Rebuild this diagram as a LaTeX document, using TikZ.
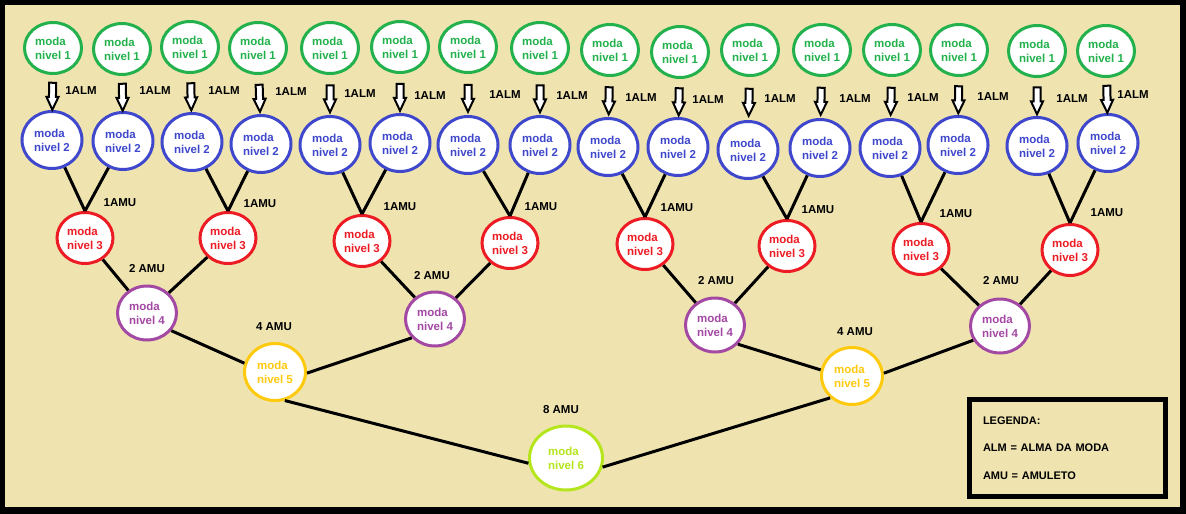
\documentclass[tikz,border=0pt]{standalone}
\usepackage{fontspec}
\setmainfont{Liberation Sans}
\usetikzlibrary{shapes.geometric,shapes.arrows}
\definecolor{fundo}{RGB}{239,228,176}
\definecolor{verde}{RGB}{34,177,76}
\definecolor{azul}{RGB}{63,72,204}
\definecolor{vermelho}{RGB}{237,28,36}
\definecolor{roxo}{RGB}{163,73,164}
\definecolor{ouro}{RGB}{255,201,14}
\definecolor{lima}{RGB}{181,230,29}

\begin{document}
\begin{tikzpicture}[x=1pt,y=-1pt,font=\fontsize{11.5}{14}\selectfont\bfseries]
\tikzstyle{moda}=[ellipse,draw,line width=3pt,fill=white,inner sep=0pt,align=left]
\tikzstyle{nivel1}=[moda,draw=verde,text=verde,minimum width=57pt,minimum height=51pt]
\tikzstyle{nivel2}=[moda,draw=azul,text=azul,minimum width=60pt,minimum height=57pt]
\tikzstyle{nivel3}=[moda,draw=vermelho,text=vermelho,minimum width=56pt,minimum height=51pt]
\tikzstyle{nivel4}=[moda,draw=roxo,text=roxo,minimum width=59pt,minimum height=54pt]
\tikzstyle{nivel5}=[moda,draw=ouro,text=ouro,minimum width=61pt,minimum height=57pt]
\tikzstyle{nivel6}=[moda,draw=lima,text=lima,minimum width=73pt,minimum height=64pt]
\tikzstyle{seta}=[single arrow,draw=black,fill=white,line width=2pt,inner sep=2.5pt,minimum height=27pt,single arrow head extend=2.5pt,single arrow tip angle=50,sloped,allow upside down]
\tikzstyle{rotulo}=[text=black,inner sep=0pt]
\tikzstyle{liga}=[line width=3pt]
\tikzstyle{legenda}=[draw,line width=5pt,minimum width=196pt,minimum height=97pt,text width=169pt,align=left,inner sep=0pt,font=\fontsize{11}{27.5}\selectfont\bfseries]
\useasboundingbox (0,0) rectangle (1186,514);
\fill[black] (0,0) rectangle (1186,514);
\fill[fundo] (5,5) rectangle (1180,507);
% nivel 1
\node[nivel1] (a1) at (53,48) {moda\\nivel 1};
\node[nivel1] (a2) at (122,49) {moda\\nivel 1};
\node[nivel1] (a3) at (190,47) {moda\\nivel 1};
\node[nivel1] (a4) at (258,48) {moda\\nivel 1};
\node[nivel1] (a5) at (330,48) {moda\\nivel 1};
\node[nivel1] (a6) at (400,47) {moda\\nivel 1};
\node[nivel1] (a7) at (468,47) {moda\\nivel 1};
\node[nivel1] (a8) at (540,48) {moda\\nivel 1};
\node[nivel1] (a9) at (610,50) {moda\\nivel 1};
\node[nivel1] (a10) at (680,52) {moda\\nivel 1};
\node[nivel1] (a11) at (750,50) {moda\\nivel 1};
\node[nivel1] (a12) at (822,50) {moda\\nivel 1};
\node[nivel1] (a13) at (892,50) {moda\\nivel 1};
\node[nivel1] (a14) at (959,50) {moda\\nivel 1};
\node[nivel1] (a15) at (1037,51) {moda\\nivel 1};
\node[nivel1] (a16) at (1106,51) {moda\\nivel 1};
% nivel 2
\node[nivel2] (b1) at (52,140) {moda\\nivel 2};
\node[nivel2] (b2) at (123,141) {moda\\nivel 2};
\node[nivel2] (b3) at (192,142) {moda\\nivel 2};
\node[nivel2] (b4) at (261,144) {moda\\nivel 2};
\node[nivel2] (b5) at (330,145) {moda\\nivel 2};
\node[nivel2] (b6) at (400,143) {moda\\nivel 2};
\node[nivel2] (b7) at (468,145) {moda\\nivel 2};
\node[nivel2] (b8) at (540,145) {moda\\nivel 2};
\node[nivel2] (b9) at (608,147) {moda\\nivel 2};
\node[nivel2] (b10) at (678,147) {moda\\nivel 2};
\node[nivel2] (b11) at (748,150) {moda\\nivel 2};
\node[nivel2] (b12) at (820,148) {moda\\nivel 2};
\node[nivel2] (b13) at (890,148) {moda\\nivel 2};
\node[nivel2] (b14) at (958,145) {moda\\nivel 2};
\node[nivel2] (b15) at (1037,146) {moda\\nivel 2};
\node[nivel2] (b16) at (1108,143) {moda\\nivel 2};
% nivel 3 a 6
\node[nivel3] (c1) at (85,238) {moda\\nivel 3};
\node[nivel3] (c2) at (228,238) {moda\\nivel 3};
\node[nivel3] (c3) at (362,241) {moda\\nivel 3};
\node[nivel3] (c4) at (510,243) {moda\\nivel 3};
\node[nivel3] (c5) at (645,244) {moda\\nivel 3};
\node[nivel3] (c6) at (787,246) {moda\\nivel 3};
\node[nivel3] (c7) at (921,249) {moda\\nivel 3};
\node[nivel3] (c8) at (1070,250) {moda\\nivel 3};
\node[nivel4] (d1) at (147,313) {moda\\nivel 4};
\node[nivel4] (d2) at (435,319) {moda\\nivel 4};
\node[nivel4] (d3) at (715,325) {moda\\nivel 4};
\node[nivel4] (d4) at (1000,326) {moda\\nivel 4};
\node[nivel5] (e1) at (275,372) {moda\\nivel 5};
\node[nivel5] (e2) at (852,376) {moda\\nivel 5};
\node[nivel6] (f1) at (566,458) {moda\\nivel 6};
% setas de alma
\path (a1) -- (b1) node[midway,seta] (s1) {};
\path (a2) -- (b2) node[midway,seta] (s2) {};
\path (a3) -- (b3) node[midway,seta] (s3) {};
\path (a4) -- (b4) node[midway,seta] (s4) {};
\path (a5) -- (b5) node[midway,seta] (s5) {};
\path (a6) -- (b6) node[midway,seta] (s6) {};
\path (a7) -- (b7) node[midway,seta] (s7) {};
\path (a8) -- (b8) node[midway,seta] (s8) {};
\path (a9) -- (b9) node[midway,seta] (s9) {};
\path (a10) -- (b10) node[midway,seta] (s10) {};
\path (a11) -- (b11) node[midway,seta] (s11) {};
\path (a12) -- (b12) node[midway,seta] (s12) {};
\path (a13) -- (b13) node[midway,seta] (s13) {};
\path (a14) -- (b14) node[midway,seta] (s14) {};
\path (a15) -- (b15) node[midway,seta] (s15) {};
\path (a16) -- (b16) node[midway,seta] (s16) {};
\node[rotulo] (alm1) at (81,91) {1ALM};
\node[rotulo] (alm2) at (155,91) {1ALM};
\node[rotulo] (alm3) at (224,91) {1ALM};
\node[rotulo] (alm4) at (291,92) {1ALM};
\node[rotulo] (alm5) at (360,94) {1ALM};
\node[rotulo] (alm6) at (430,96) {1ALM};
\node[rotulo] (alm7) at (505,95) {1ALM};
\node[rotulo] (alm8) at (572,96) {1ALM};
\node[rotulo] (alm9) at (641,98) {1ALM};
\node[rotulo] (alm10) at (708,100) {1ALM};
\node[rotulo] (alm11) at (780,99) {1ALM};
\node[rotulo] (alm12) at (855,99) {1ALM};
\node[rotulo] (alm13) at (923,98) {1ALM};
\node[rotulo] (alm14) at (993,97) {1ALM};
\node[rotulo] (alm15) at (1072,99) {1ALM};
\node[rotulo] (alm16) at (1133,95) {1ALM};
% ligacoes
\draw[liga] (b1) -- (c1.north);
\draw[liga] (b2) -- (c1.north);
\draw[liga] (b3) -- (c2.north);
\draw[liga] (b4) -- (c2.north);
\draw[liga] (b5) -- (c3.north);
\draw[liga] (b6) -- (c3.north);
\draw[liga] (b7) -- (c4.north);
\draw[liga] (b8) -- (c4.north);
\draw[liga] (b9) -- (c5.north);
\draw[liga] (b10) -- (c5.north);
\draw[liga] (b11) -- (c6.north);
\draw[liga] (b12) -- (c6.north);
\draw[liga] (b13) -- (c7.north);
\draw[liga] (b14) -- (c7.north);
\draw[liga] (b15) -- (c8.north);
\draw[liga] (b16) -- (c8.north);
\draw[liga] (c1) -- (d1);
\draw[liga] (c2) -- (d1);
\draw[liga] (c3) -- (d2);
\draw[liga] (c4) -- (d2);
\draw[liga] (c5) -- (d3);
\draw[liga] (c6) -- (d3);
\draw[liga] (c7) -- (d4);
\draw[liga] (c8) -- (d4);
\draw[liga] (d1.-36) -- (e1.164);
\draw[liga] (d2.219) -- (e1.-2);
\draw[liga] (d3.-40) -- (e2.169);
\draw[liga] (d4.208) -- (e2.5);
\draw[liga] (e1.-71) -- (f1.188);
\draw[liga] (e2.-135) -- (f1.-14);
% amuletos
\node[rotulo] (amu1) at (120,203) {1AMU};
\node[rotulo] (amu2) at (260,204) {1AMU};
\node[rotulo] (amu3) at (400,207) {1AMU};
\node[rotulo] (amu4) at (541,207) {1AMU};
\node[rotulo] (amu5) at (677,208) {1AMU};
\node[rotulo] (amu6) at (818,210) {1AMU};
\node[rotulo] (amu7) at (956,214) {1AMU};
\node[rotulo] (amu8) at (1107,213) {1AMU};
\node[rotulo] (amu9) at (147,269) {2 AMU};
\node[rotulo] (amu10) at (432,276) {2 AMU};
\node[rotulo] (amu11) at (716,281) {2 AMU};
\node[rotulo] (amu12) at (1001,281) {2 AMU};
\node[rotulo] (amu13) at (274,327) {4 AMU};
\node[rotulo] (amu14) at (855,332) {4 AMU};
\node[rotulo] (amu15) at (561,410) {8 AMU};
\node[legenda] (leg) at (1067.5,448) {LEGENDA:\\ALM = ALMA DA MODA\\AMU = AMULETO};
\end{tikzpicture}
\end{document}
